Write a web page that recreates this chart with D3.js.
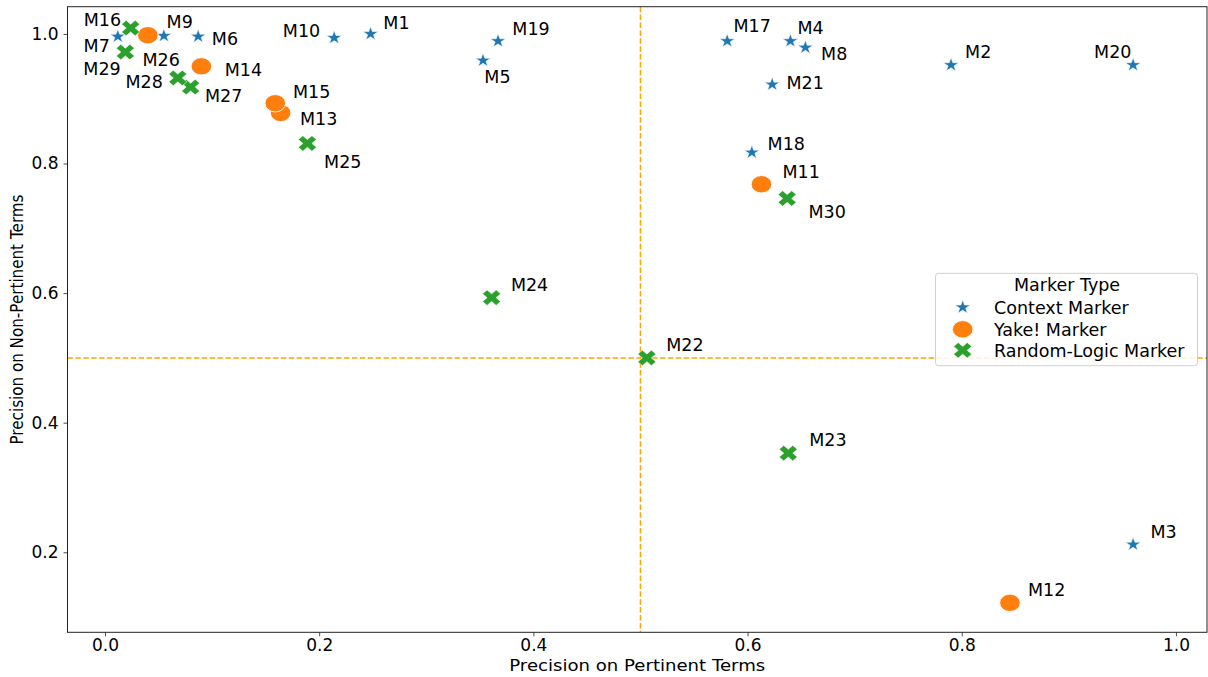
<!DOCTYPE html>
<html><head><meta charset="utf-8">
<script src="https://cdn.jsdelivr.net/npm/d3@7"></script>
<style>
body{margin:0;background:#fff}
svg{display:block}
text{font-family:"DejaVu Sans",sans-serif;fill:#000}
</style>
</head><body>
<svg id="c" width="1208" height="677"></svg>
<script>
// ---- data ----
const contextNames = ["M1","M2","M3","M4","M5","M6","M7","M8","M9","M10","M17","M18","M19","M20","M21"];
const contextX = [0.248,0.790,0.960,0.640,0.353,0.087,0.012,0.654,0.055,0.214,0.581,0.604,0.367,0.960,0.623];
const contextY = [1.000,0.952,0.212,0.989,0.959,0.996,0.996,0.979,0.997,0.994,0.989,0.817,0.989,0.952,0.922];

const yakeNames = ["M11","M12","M13","M14","M15","M26"];
const yakeX = [0.613,0.845,0.164,0.090,0.159,0.040];
const yakeY = [0.768,0.122,0.878,0.950,0.893,0.998];

const randomNames = ["M16","M22","M23","M24","M25","M27","M28","M29","M30"];
const randomX = [0.024,0.506,0.638,0.361,0.189,0.080,0.068,0.019,0.637];
const randomY = [1.009,0.500,0.353,0.593,0.831,0.918,0.932,0.972,0.746];

const seriesNames = ["Context Marker","Yake! Marker","Random-Logic Marker"];
const xTicks = [0.0,0.2,0.4,0.6,0.8,1.0];
const yTicks = [0.2,0.4,0.6,0.8,1.0];
const thresholdX = 0.5, thresholdY = 0.5;

// ---- layout (label placement offsets in px: left edge dx, centre dy) ----
const labelOffsets = {
  M1:[12.7,-11.7], M2:[14,-13], M3:[17.4,-12.6], M4:[7,-13.7], M5:[1.3,16], M6:[13.7,2.3],
  M7:[-34.3,9.3], M8:[15.7,6.3], M9:[2.7,-14.3], M10:[-51.3,-7], M11:[21,-12.6], M12:[18,-13],
  M13:[19.3,5.7], M14:[23.3,3.3], M15:[17.7,-11.6], M16:[-47,-8.3], M17:[6.3,-15.3], M18:[15.7,-9],
  M19:[14.3,-12.7], M20:[-39,-13.3], M21:[14.3,-2], M22:[19.3,-13.7], M23:[21,-13.3], M24:[19.3,-12.7],
  M25:[16.7,18.4], M26:[-5.3,24], M27:[14.3,8.4], M28:[-52.3,3.4], M29:[-42,16.7], M30:[21.3,13.4]
};

const colors = ["#1f77b4","#ff7f0e","#2ca02c"];
const svg = d3.select("#c");
const L = 67.5, R = 1207, T = 6.7, B = 632.3;
const x = d3.scaleLinear().domain([-0.035, 1.029]).range([L, R]);
const y = d3.scaleLinear().domain([0.0765, 1.042]).range([B, T]);

const FS = 17.5;

// threshold lines
svg.append("line").attr("x1", x(thresholdX)).attr("x2", x(thresholdX)).attr("y1", T).attr("y2", B)
  .attr("stroke", "#ffa500").attr("stroke-width", 1.5).attr("stroke-dasharray", "5.5,2.4");
svg.append("line").attr("x1", L).attr("x2", R).attr("y1", y(thresholdY)).attr("y2", y(thresholdY))
  .attr("stroke", "#ffa500").attr("stroke-width", 1.5).attr("stroke-dasharray", "5.5,2.4");

// marker generators
const starPath = d3.symbol().type(d3.symbolStar).size(62)();
const crossPath = d3.symbol().type(d3.symbolCross).size(150)();
function drawMarker(g, kind, cx, cy, color) {
  if (kind === 0) {
    g.append("path").attr("d", starPath)
      .attr("transform", `translate(${cx},${cy}) scale(1.1,1)`)
      .attr("fill", color).attr("stroke", "#fff").attr("stroke-width", 0.6);
  } else if (kind === 1) {
    g.append("ellipse").attr("cx", cx).attr("cy", cy).attr("rx", 10.3).attr("ry", 8.7)
      .attr("fill", color).attr("stroke", "#fff").attr("stroke-width", 0.9);
  } else {
    g.append("path").attr("d", crossPath)
      .attr("transform", `translate(${cx},${cy}) scale(1.17,1) rotate(45)`)
      .attr("fill", color).attr("stroke", "#fff").attr("stroke-width", 0.5);
  }
}

const series = [
  {names: contextNames, xs: contextX, ys: contextY},
  {names: yakeNames, xs: yakeX, ys: yakeY},
  {names: randomNames, xs: randomX, ys: randomY}
];

const gMarks = svg.append("g");
series.forEach((s, k) => {
  s.names.forEach((n, i) => drawMarker(gMarks, k, x(s.xs[i]), y(s.ys[i]), colors[k]));
});
const gLabels = svg.append("g");
series.forEach((s) => {
  s.names.forEach((n, i) => {
    const o = labelOffsets[n] || [10, -10];
    gLabels.append("text").attr("x", x(s.xs[i]) + o[0]).attr("y", y(s.ys[i]) + o[1] + 0.364 * FS)
      .attr("font-size", FS).text(n);
  });
});

// frame
svg.append("rect").attr("x", L).attr("y", T).attr("width", R - L).attr("height", B - T)
  .attr("fill", "none").attr("stroke", "#222").attr("stroke-width", 1);

// axes
const xAxis = svg.append("g").attr("transform", `translate(0,${B})`)
  .call(d3.axisBottom(x).tickValues(xTicks).tickFormat(d3.format(".1f")).tickSize(4).tickPadding(3));
const yAxis = svg.append("g").attr("transform", `translate(${L},0)`)
  .call(d3.axisLeft(y).tickValues(yTicks).tickFormat(d3.format(".1f")).tickSize(4).tickPadding(5));
[xAxis, yAxis].forEach(a => {
  a.select(".domain").remove();
  a.selectAll(".tick line").attr("stroke", "#222").attr("stroke-width", 0.8);
  a.selectAll(".tick text").attr("font-size", 17).attr("font-family", "DejaVu Sans").attr("fill", "#000");
});

// axis titles
svg.append("text").attr("x", (L + R) / 2).attr("y", 670.5).attr("text-anchor", "middle")
  .attr("font-size", 15.5).attr("textLength", 256).attr("lengthAdjust", "spacingAndGlyphs")
  .text("Precision on Pertinent Terms");
svg.append("text").attr("transform", `translate(23,${(T + B) / 2}) rotate(-90)`)
  .attr("text-anchor", "middle").attr("font-size", 17)
  .attr("textLength", 250).attr("lengthAdjust", "spacingAndGlyphs")
  .text("Precision on Non-Pertinent Terms");

// legend
const lg = svg.append("g");
lg.append("rect").attr("x", 935.5).attr("y", 273.3).attr("width", 262).attr("height", 92.4)
  .attr("rx", 3).attr("fill", "#fff").attr("fill-opacity", 0.85).attr("stroke", "#d0d0d0").attr("stroke-width", 1);
lg.append("text").attr("x", 1067).attr("y", 285 + 0.364 * FS).attr("text-anchor", "middle")
  .attr("font-size", FS).text("Marker Type");
const legY = [307.3, 329.3, 350.3];
seriesNames.forEach((nm, k) => {
  drawMarker(lg, k, 962.7, legY[k], colors[k]);
  lg.append("text").attr("x", 994).attr("y", legY[k] + 0.364 * FS).attr("font-size", FS).text(nm);
});
</script>
</body></html>
